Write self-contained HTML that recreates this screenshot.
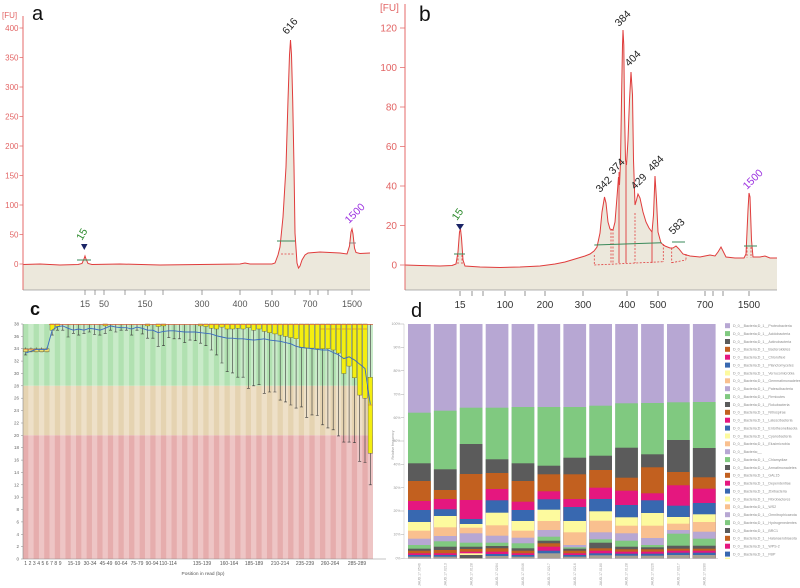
<!DOCTYPE html>
<html><head><meta charset="utf-8"><style>
body{margin:0;background:#fff}
svg{display:block}
.c0{fill:#b7a7d3}.c1{fill:#80c980}.c2{fill:#5b5b5b}.c3{fill:#c2601f}.c4{fill:#e5177f}.c5{fill:#3868b0}.c6{fill:#fdfa9e}.c7{fill:#f9c08f}.c8{fill:#a8a091}
.ax{font-size:8px;fill:#e26464}
.bx{font-size:10px;fill:#e26464}
.xl{font-size:9px;fill:#555;text-anchor:middle}
.xb{font-size:10px;fill:#333;text-anchor:middle}
.pk{font-size:10.5px;fill:#222}
.cy{font-size:4.5px;fill:#666;text-anchor:end}
.cx{font-size:5px;fill:#555;text-anchor:middle}
.lg{font-size:3.6px;fill:#8a8a8a}
.dy{font-size:3.5px;fill:#999;text-anchor:end}
.dx{font-size:3.5px;fill:#a0a0a0}
</style></head><body>
<svg width="800" height="588" viewBox="0 0 800 588" font-family="Liberation Sans, Arial, sans-serif">
<rect width="800" height="588" fill="#fff"/>

<!-- ================= PANEL A ================= -->
<path d="M23,264.5 L40,264 L60,265 L78,264.5 L82,263.5 L84,259 L85,256 L86,259 L88,263.5 L92,264.5 L120,264 L160,265 L200,264.5 L240,264 L245,263 L250,264 L272,264 L275,263 L278,255 L280,247 L283,217 L286,167 L288,100 L289.5,55 L290.5,40 L291.5,55 L292.7,100 L294,167 L295,233 L297,263 L298.5,268 L300,266 L302,260 L305,255 L308,253 L320,252 L330,252.5 L340,253 L347,254 L349.5,246 L351,232 L352,229 L353,234 L354.5,248 L356,252.5 L360,253.5 L370,253 L370,290 L23,290 Z" fill="#ece8dc"/>
<path d="M23,264.5 L40,264 L60,265 L78,264.5 L82,263.5 L84,259 L85,256 L86,259 L88,263.5 L92,264.5 L120,264 L160,265 L200,264.5 L240,264 L245,263 L250,264 L272,264 L275,263 L278,255 L280,247 L283,217 L286,167 L288,100 L289.5,55 L290.5,40 L291.5,55 L292.7,100 L294,167 L295,233 L297,263 L298.5,268 L300,266 L302,260 L305,255 L308,253 L320,252 L330,252.5 L340,253 L347,254 L349.5,246 L351,232 L352,229 L353,234 L354.5,248 L356,252.5 L360,253.5 L370,253" fill="none" stroke="#e03c3c" stroke-width="1"/>
<line x1="77" y1="260" x2="91" y2="260" stroke="#3a8a5a" stroke-width="1"/>
<line x1="277" y1="241" x2="295" y2="241" stroke="#3a8a5a" stroke-width="1"/>
<line x1="281" y1="254" x2="295" y2="254" stroke="#e04040" stroke-width="0.8" stroke-dasharray="2,1.5"/>
<line x1="349" y1="243" x2="356" y2="243" stroke="#777" stroke-width="0.8"/>
<polygon points="81,244 87.5,244 84.3,250" fill="#1a2466"/>
<line x1="23" y1="16" x2="23" y2="290" stroke="#e46a6a" stroke-width="1"/>
<line x1="23" y1="290" x2="370" y2="290" stroke="#9a9a9a" stroke-width="0.8"/>
<path d="M19.5,28H23M19.5,57.5H23M19.5,87H23M19.5,116.5H23M19.5,146H23M19.5,175.5H23M19.5,205H23M19.5,234.5H23M19.5,264H23" stroke="#e46a6a" stroke-width="0.8"/>
<text x="2" y="18" class="ax" font-size="7">[FU]</text>
<g class="ax" text-anchor="end">
<text x="18.5" y="31">400</text><text x="18.5" y="60.5">350</text><text x="18.5" y="90">300</text><text x="18.5" y="119.5">250</text><text x="18.5" y="149">200</text><text x="18.5" y="178.5">150</text><text x="18.5" y="208">100</text><text x="18.5" y="237.5">50</text><text x="18.5" y="267">0</text>
</g>
<path d="M85,290v5M95,290v5M104,290v5M125,290v5M145,290v5M163,290v5M202,290v5M240,290v5M272,290v5M295,290v5M310,290v5M318,290v5M328,290v5M352,290v5" stroke="#777" stroke-width="0.7"/>
<g class="xl">
<text x="85" y="307">15</text><text x="104" y="307">50</text><text x="145" y="307">150</text><text x="202" y="307">300</text><text x="240" y="307">400</text><text x="272" y="307">500</text><text x="310" y="307">700</text><text x="352" y="307">1500</text>
</g>
<text class="pk" transform="translate(287,35) rotate(-50)">616</text>
<text class="pk" style="fill:#2c8a2c" transform="translate(82,241) rotate(-60)" font-size="9">15</text>
<text class="pk" style="fill:#9b30e0" transform="translate(349,224) rotate(-45)" font-size="9.5">1500</text>
<text x="32" y="20" font-size="20" fill="#111">a</text>

<!-- ================= PANEL B ================= -->
<text x="380" y="11" class="bx" font-size="8.5">[FU]</text>
<g class="bx" text-anchor="end">
<text x="397" y="31.5">120</text><text x="397" y="71">100</text><text x="397" y="110.5">80</text><text x="397" y="150">60</text><text x="397" y="189.5">40</text><text x="397" y="229">20</text><text x="397" y="268.5">0</text>
</g>
<path d="M400,28H405M400,67.5H405M400,107H405M400,146.5H405M400,186H405M400,225.5H405M400,265H405" stroke="#e46a6a" stroke-width="0.8"/>
<path d="M405,265 L420,265.5 L440,266 L452,265.5 L456,264 L458,252 L459.5,232 L460.5,229 L461.5,238 L463,260 L465,266 L480,267 L500,267.5 L520,267 L540,266 L555,264 L565,262 L575,259 L585,256 L590,254 L594,251 L597,247 L600,233 L602,212 L604.5,197 L606,203 L608,222 L610,229 L613,230 L615,222 L617,197 L618.5,177 L619.5,185 L620.5,162 L621.5,100 L622.5,45 L623,30 L623.8,45 L624.5,110 L625.5,160 L626.5,165 L628,140 L629.5,100 L631,72 L632.5,95 L633.5,160 L635,205 L636.5,200 L638,194 L640,198 L643,212 L646,222 L649,228 L652,232 L653.5,215 L655,176 L656.5,200 L658,232 L661,243 L665,246 L670,248 L673,248 L676,246 L679,249 L683,254 L690,256 L700,257 L705,256 L710,255 L715,256 L718,252 L721,247 L723,251 L726,257 L735,258 L744,258 L746,254 L748,210 L749,193 L750,197 L751.5,240 L753,257 L760,257 L765,256 L770,258 L777,258 L777,290 L405,290 Z" fill="#ece8dc"/>
<path d="M405,265 L420,265.5 L440,266 L452,265.5 L456,264 L458,252 L459.5,232 L460.5,229 L461.5,238 L463,260 L465,266 L480,267 L500,267.5 L520,267 L540,266 L555,264 L565,262 L575,259 L585,256 L590,254 L594,251 L597,247 L600,233 L602,212 L604.5,197 L606,203 L608,222 L610,229 L613,230 L615,222 L617,197 L618.5,177 L619.5,185 L620.5,162 L621.5,100 L622.5,45 L623,30 L623.8,45 L624.5,110 L625.5,160 L626.5,165 L628,140 L629.5,100 L631,72 L632.5,95 L633.5,160 L635,205 L636.5,200 L638,194 L640,198 L643,212 L646,222 L649,228 L652,232 L653.5,215 L655,176 L656.5,200 L658,232 L661,243 L665,246 L670,248 L673,248 L676,246 L679,249 L683,254 L690,256 L700,257 L705,256 L710,255 L715,256 L718,252 L721,247 L723,251 L726,257 L735,258 L744,258 L746,254 L748,210 L749,193 L750,197 L751.5,240 L753,257 L760,257 L765,256 L770,258 L777,258" fill="none" stroke="#e03c3c" stroke-width="1"/>
<g stroke="#e04040" stroke-width="0.8" stroke-dasharray="2,1.5" fill="none">
<path d="M594.3,265L663.3,261.7M671.7,262.7L686,260"/>
<path d="M594.3,255V265M611,229V264M613,229V264M635,213V263M663.3,244V262M671.7,248V263M686,254V260M458,255V265M462,255V265M747,247V258M751,247V258"/>
</g>
<path d="M619,172V263M626,162V263M652,232V263" stroke="#e03c3c" stroke-width="0.9"/>
<g stroke="#3a8a5a" stroke-width="1">
<line x1="454" y1="254" x2="465" y2="254"/>
<line x1="594.3" y1="245" x2="661.7" y2="242.7"/>
<line x1="672" y1="242" x2="685" y2="242"/>
<line x1="744" y1="246" x2="757" y2="246"/>
</g>
<polygon points="456,224 464,224 460,230" fill="#1a2466"/>
<line x1="405" y1="4" x2="405" y2="290" stroke="#e46a6a" stroke-width="1"/>
<line x1="405" y1="290" x2="777" y2="290" stroke="#9a9a9a" stroke-width="0.8"/>
<path d="M460,291v5M472,291v5M483,291v5M505,291v5M525,291v5M545,291v5M583,291v5M627,291v5M658,291v5M705,291v5M713,291v5M723,291v5M749,291v5" stroke="#666" stroke-width="0.7"/>
<g class="xb">
<text x="460" y="308">15</text><text x="505" y="308">100</text><text x="545" y="308">200</text><text x="583" y="308">300</text><text x="627" y="308">400</text><text x="658" y="308">500</text><text x="705" y="308">700</text><text x="749" y="308">1500</text>
</g>
<text class="pk" transform="translate(619,27) rotate(-45)">384</text>
<text class="pk" transform="translate(629,67) rotate(-45)">404</text>
<text class="pk" transform="translate(600,193) rotate(-45)">342</text>
<text class="pk" transform="translate(613,175) rotate(-45)">374</text>
<text class="pk" transform="translate(635,190) rotate(-45)">429</text>
<text class="pk" transform="translate(652,172) rotate(-45)">484</text>
<text class="pk" transform="translate(673,235) rotate(-45)">583</text>
<text class="pk" style="fill:#9b30e0" transform="translate(747,190) rotate(-45)">1500</text>
<text class="pk" style="fill:#2c8a2c" transform="translate(457,221) rotate(-55)" font-size="9.5">15</text>
<text x="419" y="21" font-size="21" fill="#111">b</text>

<!-- ================= PANEL C ================= -->
<defs>
<pattern id="pg" x="23" y="0" width="10.606" height="10" patternUnits="userSpaceOnUse"><rect width="5.303" height="10" fill="#b1e1b1"/><rect x="5.303" width="5.303" height="10" fill="#c9ebc9"/></pattern>
<pattern id="po" x="23" y="0" width="10.606" height="10" patternUnits="userSpaceOnUse"><rect width="5.303" height="10" fill="#e5d3b1"/><rect x="5.303" width="5.303" height="10" fill="#eee0c8"/></pattern>
<pattern id="pr" x="23" y="0" width="10.606" height="10" patternUnits="userSpaceOnUse"><rect width="5.303" height="10" fill="#e6adad"/><rect x="5.303" width="5.303" height="10" fill="#eec5c5"/></pattern>
</defs>
<rect x="23" y="324" width="350" height="61.8" fill="url(#pg)"/>
<rect x="23" y="385.8" width="350" height="49.5" fill="url(#po)"/>
<rect x="23" y="435.3" width="350" height="123.7" fill="url(#pr)"/>
<line x1="23" y1="324" x2="23" y2="559" stroke="#888" stroke-width="0.6"/>
<line x1="23" y1="559" x2="386" y2="559" stroke="#888" stroke-width="0.6"/>
<path d="M21,559H23M21,546.6H23M21,534.3H23M21,521.9H23M21,509.5H23M21,497.2H23M21,484.8H23M21,472.4H23M21,460.1H23M21,447.7H23M21,435.3H23M21,423H23M21,410.6H23M21,398.2H23M21,385.8H23M21,373.5H23M21,361.1H23M21,348.7H23M21,336.4H23M21,324H23" stroke="#888" stroke-width="0.5"/>
<g class="cy">
<text x="19" y="560.5">0</text><text x="19" y="548.1">2</text><text x="19" y="535.8">4</text><text x="19" y="523.4">6</text><text x="19" y="511">8</text><text x="19" y="498.7">10</text><text x="19" y="486.3">12</text><text x="19" y="473.9">14</text><text x="19" y="461.6">16</text><text x="19" y="449.2">18</text><text x="19" y="436.8">20</text><text x="19" y="424.5">22</text><text x="19" y="412.1">24</text><text x="19" y="399.7">26</text><text x="19" y="387.3">28</text><text x="19" y="375">30</text><text x="19" y="362.6">32</text><text x="19" y="350.2">34</text><text x="19" y="337.9">36</text><text x="19" y="325.5">38</text>
</g>
<!-- whiskers -->
<path fill="none" stroke="#3a3a3a" stroke-width="0.6" d="M25.65,347.5V354.9m-1.5,0h3M30.95,347.5V351.8m-1.5,0h3M36.26,347.5V351.8m-1.5,0h3M41.56,347.5V351.8m-1.5,0h3M46.86,347.5V351.8m-1.5,0h3M52.17,324V335.1m-1.5,0h3M57.47,324V330.2m-1.5,0h3M62.77,324V330.2m-1.5,0h3M68.07,324V337m-1.5,0h3M73.38,324V333.3m-1.5,0h3M78.68,324V335.1m-1.5,0h3M83.98,324V333.3m-1.5,0h3M89.29,324V332m-1.5,0h3M94.59,324V334.5m-1.5,0h3M99.89,324V335.1m-1.5,0h3M105.2,324V333.3m-1.5,0h3M110.5,324V330.2m-1.5,0h3M115.8,324V332m-1.5,0h3M121.1,324V330.2m-1.5,0h3M126.4,324V330.2m-1.5,0h3M131.7,324V335.1m-1.5,0h3M137,324V330.2m-1.5,0h3M142.3,324V333.9m-1.5,0h3M147.6,324V338.2m-1.5,0h3M152.9,324V338.2m-1.5,0h3M158.2,324V346.3m-1.5,0h3M163.5,324V345.7m-1.5,0h3M168.8,324V337.6m-1.5,0h3M174.1,324V338.8m-1.5,0h3M179.4,324V338.8m-1.5,0h3M184.7,324V342.6m-1.5,0h3M190,324V340.1m-1.5,0h3M195.3,324V340.7m-1.5,0h3M200.6,324V343.2m-1.5,0h3M205.9,324V345.7m-1.5,0h3M211.3,324V350m-1.5,0h3M216.6,324V354.9m-1.5,0h3M221.9,324V363m-1.5,0h3M227.2,324V371.6m-1.5,0h3M232.5,324V372.9m-1.5,0h3M237.8,324V377.2m-1.5,0h3M243.1,324V377.2m-1.5,0h3M248.4,324V388.3m-1.5,0h3M253.7,324V385.8m-1.5,0h3M259,324V384.6m-1.5,0h3M264.3,324V393.3m-1.5,0h3M269.6,324V392m-1.5,0h3M274.9,324V392m-1.5,0h3M280.2,324V400.1m-1.5,0h3M285.5,324V401.9m-1.5,0h3M290.8,324V405m-1.5,0h3M296.1,324V408.1m-1.5,0h3M301.4,324V406.9m-1.5,0h3M306.7,324V417.4m-1.5,0h3M312,324V414.9m-1.5,0h3M317.3,324V415.5m-1.5,0h3M322.6,324V424.8m-1.5,0h3M327.9,324V427.9m-1.5,0h3M333.2,324V429.8m-1.5,0h3M338.5,324V435.9m-1.5,0h3M343.8,324V442.1m-1.5,0h3M349.1,324V442.1m-1.5,0h3M354.4,324V442.7m-1.5,0h3M359.7,324V461.3m-1.5,0h3M365,324V462.5m-1.5,0h3M370.3,324V484.8m-1.5,0h3"/>
<!-- boxes -->
<g fill="#f4ee10" stroke="#5a5a3a" stroke-width="0.4">
<rect x="23.45" y="348.7" width="4.4" height="3.1" fill="#f0e070"/><rect x="28.75" y="348.7" width="4.4" height="3.1" fill="#f0e070"/><rect x="34.06" y="348.7" width="4.4" height="3.1" fill="#f0e070"/><rect x="39.36" y="348.7" width="4.4" height="3.1" fill="#f0e070"/><rect x="44.66" y="348.7" width="4.4" height="3.1" fill="#f0e070"/>
<rect x="49.97" y="324" width="4.4" height="6.2"/><rect x="55.27" y="324" width="4.4" height="2.5"/>
<rect x="103" y="324" width="4.4" height="1.9"/><rect x="145.4" y="324" width="4.4" height="1.9"/><rect x="156" y="324" width="4.4" height="2.5"/><rect x="161.3" y="324" width="4.4" height="1.9"/><rect x="198.4" y="324" width="4.4" height="1.9"/><rect x="203.7" y="324" width="4.4" height="2.5"/>
<rect x="209.1" y="324" width="4.4" height="4.3"/><rect x="214.4" y="324" width="4.4" height="5"/><rect x="219.7" y="324" width="4.4" height="3.1"/><rect x="225" y="324" width="4.4" height="5"/><rect x="230.3" y="324" width="4.4" height="5"/><rect x="235.6" y="324" width="4.4" height="4.3"/><rect x="240.9" y="324" width="4.4" height="5"/><rect x="246.2" y="324" width="4.4" height="3.7"/><rect x="251.5" y="324" width="4.4" height="6.2"/><rect x="256.8" y="324" width="4.4" height="5"/>
<rect x="262.1" y="324" width="4.4" height="7.4"/><rect x="267.4" y="324" width="4.4" height="8.7"/><rect x="272.7" y="324" width="4.4" height="9.9"/><rect x="278" y="324" width="4.4" height="11.1"/><rect x="283.3" y="324" width="4.4" height="12.4"/><rect x="288.6" y="324" width="4.4" height="13.6"/><rect x="293.9" y="324" width="4.4" height="14.8"/>
<rect x="299.2" y="324" width="4.4" height="23.5"/><rect x="304.5" y="324" width="4.4" height="24.1"/><rect x="309.8" y="324" width="4.4" height="24.1"/><rect x="315.1" y="324" width="4.4" height="24.7"/><rect x="320.4" y="324" width="4.4" height="24.7"/><rect x="325.7" y="324" width="4.4" height="24.7"/><rect x="331" y="324" width="4.4" height="26"/><rect x="336.3" y="324" width="4.4" height="29.1"/>
<rect x="341.6" y="324" width="4.4" height="49.5"/><rect x="346.9" y="324" width="4.4" height="42.1"/><rect x="352.2" y="324" width="4.4" height="53.8"/><rect x="357.5" y="324" width="4.4" height="71.1"/><rect x="362.8" y="324" width="4.4" height="74.2"/><rect x="368.1" y="377.2" width="4.4" height="76.1"/>
</g>
<line x1="49" y1="324.4" x2="373" y2="324.4" stroke="#d86040" stroke-width="0.8"/>
<path d="M24,349.2h24M320.4,329h4.4M325.7,329h4.4M331,329h4.4M336.3,329h4.4M341.6,329h4.4M346.9,329h4.4M352.2,329h4.4M357.5,329h4.4M362.8,329h4.4M368.1,405h4.4" stroke="#d86040" stroke-width="0.6"/>
<polyline fill="none" stroke="#3a6cc0" stroke-width="0.9" points="25.65,353.1 30.95,351.2 36.26,349.4 41.56,349.4 46.86,349.4 52.17,330.2 57.47,326.5 62.77,325.9 68.07,328.3 73.38,330.2 78.68,329 83.98,330.2 89.29,328.3 94.59,329 99.89,330.2 105.2,328.3 110.5,325.9 115.8,327.1 121.1,327.7 126.4,327.7 131.7,329 137,327.1 142.3,328.3 147.6,330.2 152.9,330.2 158.2,332.7 163.5,331.4 168.8,330.8 174.1,330.8 179.4,331.4 184.7,332 190,332 195.3,332 200.6,332.7 205.9,333.3 211.3,333.9 216.6,335.8 221.9,337 227.2,338.2 232.5,338.2 237.8,338.8 243.1,338.8 248.4,339.5 253.7,340.1 259,339.5 264.3,338.8 269.6,340.1 274.9,340.7 280.2,341.3 285.5,342.6 290.8,343.8 296.1,346.3 301.4,347.5 306.7,348.1 312,348.7 317.3,349.4 322.6,350 327.9,350 333.2,352.5 338.5,354.9 343.8,358.6 349.1,356.8 354.4,359.9 359.7,364.2 365,368.5 370.3,404.4"/>
<g class="cx">
<text x="25.7" y="565">1</text><text x="30" y="565">2</text><text x="34.3" y="565">3</text><text x="38.6" y="565">4</text><text x="42.9" y="565">5</text><text x="47.2" y="565">6</text><text x="51.5" y="565">7</text><text x="55.8" y="565">8</text><text x="60.1" y="565">9</text>
<text x="74" y="565">15-19</text><text x="90" y="565">30-34</text><text x="106" y="565">45-49</text><text x="121" y="565">60-64</text><text x="137" y="565">75-79</text><text x="152" y="565">90-94</text><text x="168" y="565">110-114</text><text x="202" y="565">135-139</text><text x="229" y="565">160-164</text><text x="254" y="565">185-189</text><text x="280" y="565">210-214</text><text x="305" y="565">235-239</text><text x="330" y="565">260-264</text><text x="357" y="565">285-289</text>
<text x="203" y="575" font-size="4.8">Position in read (bp)</text>
</g>
<text x="30" y="315" font-size="18" font-weight="bold" fill="#111">c</text>

<!-- ================= PANEL D ================= -->
<line x1="404" y1="324" x2="404" y2="558.5" stroke="#bbb" stroke-width="0.5"/>
<line x1="404" y1="558.5" x2="718" y2="558.5" stroke="#bbb" stroke-width="0.5"/>
<path d="M401,324H404M401,347.3H404M401,370.7H404M401,394.3H404M401,417.7H404M401,441H404M401,464.3H404M401,487.7H404M401,511H404M401,534.3H404M401,558.3H404" stroke="#aaa" stroke-width="0.5"/>
<g class="dy">
<text x="400.5" y="325.2">100%</text><text x="400.5" y="348.5">90%</text><text x="400.5" y="371.9">80%</text><text x="400.5" y="395.5">70%</text><text x="400.5" y="418.9">60%</text><text x="400.5" y="442.2">50%</text><text x="400.5" y="465.5">40%</text><text x="400.5" y="488.9">30%</text><text x="400.5" y="512.2">20%</text><text x="400.5" y="535.5">10%</text><text x="400.5" y="559.5">0%</text>
</g>
<text class="dy" transform="translate(394,445) rotate(-90)" style="text-anchor:middle" font-size="4">Relative frequency</text>

<g transform="translate(408,0)">
<rect class="c0" y="324" width="22.7" height="234.3"/><rect class="c1" y="412.7" width="22.7" height="145.6"/><rect class="c2" y="463.3" width="22.7" height="95"/><rect class="c3" y="481" width="22.7" height="77.3"/><rect class="c4" y="501" width="22.7" height="57.3"/><rect class="c5" y="510" width="22.7" height="48.3"/><rect class="c6" y="522" width="22.7" height="36.3"/><rect class="c7" y="530.7" width="22.7" height="27.6"/><rect class="c0" y="538.7" width="22.7" height="19.6"/><rect class="c1" y="545" width="22.7" height="13.3"/><rect class="c2" y="548.7" width="22.7" height="9.6"/><rect class="c3" y="550.7" width="22.7" height="7.6"/><rect class="c4" y="553.3" width="22.7" height="5"/><rect class="c5" y="555" width="22.7" height="3.3"/><rect class="c8" y="556.7" width="22.7" height="1.6"/>
</g>
<g transform="translate(433.9,0)">
<rect class="c0" y="324" width="22.7" height="234.3"/><rect class="c1" y="410.7" width="22.7" height="147.6"/><rect class="c2" y="469.3" width="22.7" height="89"/><rect class="c3" y="490" width="22.7" height="68.3"/><rect class="c4" y="499" width="22.7" height="59.3"/><rect class="c5" y="509.3" width="22.7" height="49"/><rect class="c6" y="516" width="22.7" height="42.3"/><rect class="c7" y="527.3" width="22.7" height="31"/><rect class="c0" y="536" width="22.7" height="22.3"/><rect class="c1" y="541.3" width="22.7" height="17"/><rect class="c2" y="546.7" width="22.7" height="11.6"/><rect class="c3" y="550" width="22.7" height="8.3"/><rect class="c4" y="553.3" width="22.7" height="5"/><rect class="c5" y="555" width="22.7" height="3.3"/><rect class="c8" y="556.7" width="22.7" height="1.6"/>
</g>
<g transform="translate(459.8,0)">
<rect class="c0" y="324" width="22.7" height="234.3"/><rect class="c1" y="407.7" width="22.7" height="150.6"/><rect class="c2" y="444" width="22.7" height="114.3"/><rect class="c3" y="474" width="22.7" height="84.3"/><rect class="c4" y="500" width="22.7" height="58.3"/><rect class="c5" y="519" width="22.7" height="39.3"/><rect class="c6" y="524" width="22.7" height="34.3"/><rect class="c7" y="527.7" width="22.7" height="30.6"/><rect class="c0" y="533.3" width="22.7" height="25"/><rect class="c1" y="542.7" width="22.7" height="15.6"/><rect class="c2" y="546.7" width="22.7" height="11.6"/><rect class="c3" y="549" width="22.7" height="9.3"/><rect class="c4" y="551.7" width="22.7" height="6.6"/><rect class="c6" y="553.3" width="22.7" height="5"/><rect class="c2" y="555" width="22.7" height="3.3"/>
</g>
<g transform="translate(485.7,0)">
<rect class="c0" y="324" width="22.7" height="234.3"/><rect class="c1" y="407.7" width="22.7" height="150.6"/><rect class="c2" y="459.3" width="22.7" height="99"/><rect class="c3" y="473" width="22.7" height="85.3"/><rect class="c4" y="489" width="22.7" height="69.3"/><rect class="c5" y="500.3" width="22.7" height="58"/><rect class="c6" y="512.7" width="22.7" height="45.6"/><rect class="c7" y="525.3" width="22.7" height="33"/><rect class="c0" y="535.7" width="22.7" height="22.6"/><rect class="c1" y="542.7" width="22.7" height="15.6"/><rect class="c2" y="546" width="22.7" height="12.3"/><rect class="c3" y="548.3" width="22.7" height="10"/><rect class="c4" y="551.7" width="22.7" height="6.6"/><rect class="c5" y="554" width="22.7" height="4.3"/><rect class="c8" y="556" width="22.7" height="2.3"/>
</g>
<g transform="translate(511.6,0)">
<rect class="c0" y="324" width="22.7" height="234.3"/><rect class="c1" y="407" width="22.7" height="151.3"/><rect class="c2" y="463.3" width="22.7" height="95"/><rect class="c3" y="481" width="22.7" height="77.3"/><rect class="c4" y="501.7" width="22.7" height="56.6"/><rect class="c5" y="510" width="22.7" height="48.3"/><rect class="c6" y="521" width="22.7" height="37.3"/><rect class="c7" y="530.7" width="22.7" height="27.6"/><rect class="c0" y="537.7" width="22.7" height="20.6"/><rect class="c1" y="543.3" width="22.7" height="15"/><rect class="c2" y="548.3" width="22.7" height="10"/><rect class="c3" y="550.7" width="22.7" height="7.6"/><rect class="c4" y="553.3" width="22.7" height="5"/><rect class="c5" y="555" width="22.7" height="3.3"/><rect class="c8" y="556.7" width="22.7" height="1.6"/>
</g>
<g transform="translate(537.5,0)">
<rect class="c0" y="324" width="22.7" height="234.3"/><rect class="c1" y="407" width="22.7" height="151.3"/><rect class="c2" y="465.7" width="22.7" height="92.6"/><rect class="c3" y="474.3" width="22.7" height="84"/><rect class="c4" y="491.3" width="22.7" height="67"/><rect class="c5" y="499.3" width="22.7" height="59"/><rect class="c6" y="509.7" width="22.7" height="48.6"/><rect class="c7" y="521" width="22.7" height="37.3"/><rect class="c0" y="530" width="22.7" height="28.3"/><rect class="c1" y="536.7" width="22.7" height="21.6"/><rect class="c2" y="540.7" width="22.7" height="17.6"/><rect class="c3" y="543.3" width="22.7" height="15"/><rect class="c4" y="546.7" width="22.7" height="11.6"/><rect class="c5" y="550.7" width="22.7" height="7.6"/><rect class="c8" y="553.3" width="22.7" height="5"/>
</g>
<g transform="translate(563.4,0)">
<rect class="c0" y="324" width="22.7" height="234.3"/><rect class="c1" y="407" width="22.7" height="151.3"/><rect class="c2" y="457.7" width="22.7" height="100.6"/><rect class="c3" y="474.3" width="22.7" height="84"/><rect class="c4" y="499" width="22.7" height="59.3"/><rect class="c5" y="507" width="22.7" height="51.3"/><rect class="c6" y="521" width="22.7" height="37.3"/><rect class="c7" y="532.3" width="22.7" height="26"/><rect class="c0" y="545" width="22.7" height="13.3"/><rect class="c1" y="547.3" width="22.7" height="11"/><rect class="c2" y="548.7" width="22.7" height="9.6"/><rect class="c3" y="550.7" width="22.7" height="7.6"/><rect class="c4" y="553.3" width="22.7" height="5"/><rect class="c5" y="555" width="22.7" height="3.3"/><rect class="c8" y="556.7" width="22.7" height="1.6"/>
</g>
<g transform="translate(589.3,0)">
<rect class="c0" y="324" width="22.7" height="234.3"/><rect class="c1" y="405.7" width="22.7" height="152.6"/><rect class="c2" y="455.7" width="22.7" height="102.6"/><rect class="c3" y="470" width="22.7" height="88.3"/><rect class="c4" y="487.7" width="22.7" height="70.6"/><rect class="c5" y="499" width="22.7" height="59.3"/><rect class="c6" y="511.3" width="22.7" height="47"/><rect class="c7" y="520.7" width="22.7" height="37.6"/><rect class="c0" y="532.3" width="22.7" height="26"/><rect class="c1" y="539.3" width="22.7" height="19"/><rect class="c2" y="542.7" width="22.7" height="15.6"/><rect class="c3" y="548.3" width="22.7" height="10"/><rect class="c4" y="550.7" width="22.7" height="7.6"/><rect class="c5" y="553.3" width="22.7" height="5"/><rect class="c8" y="555.3" width="22.7" height="3"/>
</g>
<g transform="translate(615.2,0)">
<rect class="c0" y="324" width="22.7" height="234.3"/><rect class="c1" y="403.3" width="22.7" height="155"/><rect class="c2" y="447.7" width="22.7" height="110.6"/><rect class="c3" y="477.7" width="22.7" height="80.6"/><rect class="c4" y="490.7" width="22.7" height="67.6"/><rect class="c5" y="505" width="22.7" height="53.3"/><rect class="c6" y="517.3" width="22.7" height="41"/><rect class="c7" y="525.7" width="22.7" height="32.6"/><rect class="c0" y="533.3" width="22.7" height="25"/><rect class="c1" y="540.7" width="22.7" height="17.6"/><rect class="c2" y="546.7" width="22.7" height="11.6"/><rect class="c3" y="549.3" width="22.7" height="9"/><rect class="c4" y="551.7" width="22.7" height="6.6"/><rect class="c5" y="553.7" width="22.7" height="4.6"/><rect class="c8" y="555.7" width="22.7" height="2.6"/>
</g>
<g transform="translate(641.1,0)">
<rect class="c0" y="324" width="22.7" height="234.3"/><rect class="c1" y="403" width="22.7" height="155.3"/><rect class="c2" y="454.3" width="22.7" height="104"/><rect class="c3" y="467.3" width="22.7" height="91"/><rect class="c4" y="493.3" width="22.7" height="65"/><rect class="c5" y="500.3" width="22.7" height="58"/><rect class="c6" y="513" width="22.7" height="45.3"/><rect class="c7" y="525.7" width="22.7" height="32.6"/><rect class="c0" y="538" width="22.7" height="20.3"/><rect class="c1" y="545" width="22.7" height="13.3"/><rect class="c2" y="547.3" width="22.7" height="11"/><rect class="c3" y="549.3" width="22.7" height="9"/><rect class="c4" y="551.7" width="22.7" height="6.6"/><rect class="c5" y="553.7" width="22.7" height="4.6"/><rect class="c8" y="555.7" width="22.7" height="2.6"/>
</g>
<g transform="translate(667,0)">
<rect class="c0" y="324" width="22.7" height="234.3"/><rect class="c1" y="402.3" width="22.7" height="156"/><rect class="c2" y="440" width="22.7" height="118.3"/><rect class="c3" y="472" width="22.7" height="86.3"/><rect class="c4" y="485.3" width="22.7" height="73"/><rect class="c5" y="505.7" width="22.7" height="52.6"/><rect class="c6" y="517" width="22.7" height="41.3"/><rect class="c7" y="523.7" width="22.7" height="34.6"/><rect class="c0" y="530" width="22.7" height="28.3"/><rect class="c1" y="533.7" width="22.7" height="24.6"/><rect class="c2" y="545.7" width="22.7" height="12.6"/><rect class="c3" y="548.7" width="22.7" height="9.6"/><rect class="c4" y="550.7" width="22.7" height="7.6"/><rect class="c5" y="552.7" width="22.7" height="5.6"/><rect class="c8" y="555" width="22.7" height="3.3"/>
</g>
<g transform="translate(692.9,0)">
<rect class="c0" y="324" width="22.7" height="234.3"/><rect class="c1" y="402" width="22.7" height="156.3"/><rect class="c2" y="448" width="22.7" height="110.3"/><rect class="c3" y="477.3" width="22.7" height="81"/><rect class="c4" y="488.7" width="22.7" height="69.6"/><rect class="c5" y="503" width="22.7" height="55.3"/><rect class="c6" y="514.3" width="22.7" height="44"/><rect class="c7" y="522" width="22.7" height="36.3"/><rect class="c0" y="531.7" width="22.7" height="26.6"/><rect class="c1" y="538.7" width="22.7" height="19.6"/><rect class="c2" y="545.7" width="22.7" height="12.6"/><rect class="c3" y="548.7" width="22.7" height="9.6"/><rect class="c4" y="550.7" width="22.7" height="7.6"/><rect class="c5" y="552.7" width="22.7" height="5.6"/><rect class="c8" y="555" width="22.7" height="3.3"/>
</g>
<!-- sample labels -->
<g class="dx">
<text transform="translate(420.5,586) rotate(-90)">JAUD.17.0546</text>
<text transform="translate(446.4,586) rotate(-90)">JAUD.17.0213</text>
<text transform="translate(472.3,586) rotate(-90)">JAUD.17.0128</text>
<text transform="translate(498.2,586) rotate(-90)">JAUD.17.0284</text>
<text transform="translate(524.1,586) rotate(-90)">JAUD.17.0546</text>
<text transform="translate(550,586) rotate(-90)">JAUD.17.0217</text>
<text transform="translate(575.9,586) rotate(-90)">JAUD.17.0216</text>
<text transform="translate(601.8,586) rotate(-90)">JAUD.17.0180</text>
<text transform="translate(627.7,586) rotate(-90)">JAUD.17.0128</text>
<text transform="translate(653.6,586) rotate(-90)">JAUD.17.0226</text>
<text transform="translate(679.5,586) rotate(-90)">JAUD.17.0217</text>
<text transform="translate(705.4,586) rotate(-90)">JAUD.17.0280</text>
</g>
<!-- legend -->
<g>
<rect class="c0" x="725" y="323.2" width="5" height="5"/><rect class="c1" x="725" y="331.1" width="5" height="5"/><rect class="c2" x="725" y="339" width="5" height="5"/><rect class="c3" x="725" y="346.8" width="5" height="5"/><rect class="c4" x="725" y="354.7" width="5" height="5"/><rect class="c5" x="725" y="362.6" width="5" height="5"/><rect class="c6" x="725" y="370.5" width="5" height="5"/><rect class="c7" x="725" y="378.3" width="5" height="5"/>
<rect class="c0" x="725" y="386.2" width="5" height="5"/><rect class="c1" x="725" y="394.1" width="5" height="5"/><rect class="c2" x="725" y="402" width="5" height="5"/><rect class="c3" x="725" y="409.8" width="5" height="5"/><rect class="c4" x="725" y="417.7" width="5" height="5"/><rect class="c5" x="725" y="425.6" width="5" height="5"/><rect class="c6" x="725" y="433.5" width="5" height="5"/><rect class="c7" x="725" y="441.3" width="5" height="5"/>
<rect class="c0" x="725" y="449.2" width="5" height="5"/><rect class="c1" x="725" y="457.1" width="5" height="5"/><rect class="c2" x="725" y="465" width="5" height="5"/><rect class="c3" x="725" y="472.8" width="5" height="5"/><rect class="c4" x="725" y="480.7" width="5" height="5"/><rect class="c5" x="725" y="488.6" width="5" height="5"/><rect class="c6" x="725" y="496.5" width="5" height="5"/><rect class="c7" x="725" y="504.3" width="5" height="5"/>
<rect class="c0" x="725" y="512.2" width="5" height="5"/><rect class="c1" x="725" y="520.1" width="5" height="5"/><rect class="c2" x="725" y="528" width="5" height="5"/><rect class="c3" x="725" y="535.8" width="5" height="5"/><rect class="c4" x="725" y="543.7" width="5" height="5"/><rect class="c5" x="725" y="551.6" width="5" height="5"/><rect class="c6" x="725" y="557.6" width="5" height="1.5"/>
</g>
<g class="lg">
<text x="733" y="327">D_0__Bacteria;D_1__Proteobacteria</text>
<text x="733" y="334.9">D_0__Bacteria;D_1__Acidobacteria</text>
<text x="733" y="342.8">D_0__Bacteria;D_1__Actinobacteria</text>
<text x="733" y="350.6">D_0__Bacteria;D_1__Bacteroidetes</text>
<text x="733" y="358.5">D_0__Bacteria;D_1__Chloroflexi</text>
<text x="733" y="366.4">D_0__Bacteria;D_1__Planctomycetes</text>
<text x="733" y="374.3">D_0__Bacteria;D_1__Verrucomicrobia</text>
<text x="733" y="382.1">D_0__Bacteria;D_1__Gemmatimonadetes</text>
<text x="733" y="390">D_0__Bacteria;D_1__Patescibacteria</text>
<text x="733" y="397.9">D_0__Bacteria;D_1__Firmicutes</text>
<text x="733" y="405.8">D_0__Bacteria;D_1__Rokubacteria</text>
<text x="733" y="413.6">D_0__Bacteria;D_1__Nitrospirae</text>
<text x="733" y="421.5">D_0__Bacteria;D_1__Latescibacteria</text>
<text x="733" y="429.4">D_0__Bacteria;D_1__Entotheonellaeota</text>
<text x="733" y="437.3">D_0__Bacteria;D_1__Cyanobacteria</text>
<text x="733" y="445.1">D_0__Bacteria;D_1__Elusimicrobia</text>
<text x="733" y="453">D_0__Bacteria;__</text>
<text x="733" y="460.9">D_0__Bacteria;D_1__Chlamydiae</text>
<text x="733" y="468.8">D_0__Bacteria;D_1__Armatimonadetes</text>
<text x="733" y="476.6">D_0__Bacteria;D_1__GAL15</text>
<text x="733" y="484.5">D_0__Bacteria;D_1__Dependentiae</text>
<text x="733" y="492.4">D_0__Bacteria;D_1__Zixibacteria</text>
<text x="733" y="500.3">D_0__Bacteria;D_1__Fibrobacteres</text>
<text x="733" y="508.1">D_0__Bacteria;D_1__WS2</text>
<text x="733" y="516">D_0__Bacteria;D_1__Omnitrophicaeota</text>
<text x="733" y="523.9">D_0__Bacteria;D_1__Hydrogenedentes</text>
<text x="733" y="531.8">D_0__Bacteria;D_1__BRC1</text>
<text x="733" y="539.6">D_0__Bacteria;D_1__Halanaerobiaeota</text>
<text x="733" y="547.5">D_0__Bacteria;D_1__WPS-2</text>
<text x="733" y="555.4">D_0__Bacteria;D_1__FBP</text>
</g>
<text x="411" y="317" font-size="20" fill="#111">d</text>
</svg>
</body></html>
